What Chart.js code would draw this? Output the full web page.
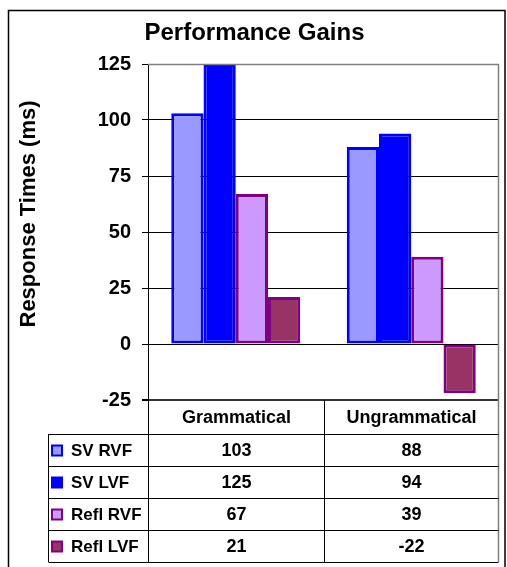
<!DOCTYPE html>
<html><head><meta charset="utf-8">
<script src="https://cdn.jsdelivr.net/npm/chart.js@4/dist/chart.umd.min.js"></script>
<style>html,body{margin:0;padding:0;background:#fff;overflow:hidden}#wrap{position:relative;width:507px;height:567px}</style>
</head><body><div id="wrap"><canvas id="c" width="507" height="567"></canvas></div>
<script>
// ---- data ----
const categories = ['Grammatical', 'Ungrammatical'];
const seriesNames = ['SV RVF', 'SV LVF', 'Refl RVF', 'Refl LVF'];
const svRVF = [103, 88];
const svLVF = [125, 94];
const reflRVF = [67, 39];
const reflLVF = [21, -22];
const yTickValues = [-25, 0, 25, 50, 75, 100, 125];
const chartTitle = 'Performance Gains';
const yAxisTitle = 'Response Times (ms)';

// ---- styles ----
const fills = ['#9999FF', '#0000FF', '#CC99FF', '#993366'];
const borders = ['#0000FF', '#0000FF', '#800080', '#800080'];
const FONT = '"Liberation Sans", Arial, sans-serif';
const seriesData = [svRVF, svLVF, reflRVF, reflLVF];

const tablePlugin = {
  id: 'tablePlugin',
  beforeDraw(chart) {
    const ctx = chart.ctx;
    ctx.save();
    ctx.fillStyle = '#fff';
    ctx.fillRect(0, 0, chart.width, chart.height);
    ctx.restore();
  },
  afterDraw(chart) {
    const ctx = chart.ctx;
    const ca = chart.chartArea;
    const xs = chart.scales.x;
    ctx.save();
    // outer frame
    ctx.strokeStyle = '#000';
    ctx.lineWidth = 1.5;
    ctx.beginPath();
    ctx.moveTo(8.5, 580); ctx.lineTo(8.5, 10.5); ctx.lineTo(505, 10.5); ctx.lineTo(505, 580);
    ctx.stroke();
    // plot border (gray) top & right
    ctx.strokeStyle = '#808080';
    ctx.lineWidth = 1.5;
    ctx.beginPath();
    ctx.moveTo(ca.left, ca.top + 0.5); ctx.lineTo(ca.right - 0.5, ca.top + 0.5); ctx.lineTo(ca.right - 0.5, 562);
    ctx.stroke();

    // y axis title
    ctx.fillStyle = '#000';
    ctx.font = 'bold 22px ' + FONT;
    ctx.textAlign = 'center';
    ctx.textBaseline = 'middle';
    ctx.save();
    ctx.translate(29, 214);
    ctx.rotate(-Math.PI / 2);
    ctx.fillText(yAxisTitle, 0, 0);
    ctx.restore();

    // table
    const top = ca.bottom;
    const headerBottom = 434;
    const rowH = 32;
    const legendLeft = 48.5;
    const axisX = ca.left + 0.5;
    const c0 = xs.getPixelForValue(0), c1 = xs.getPixelForValue(1);
    const midX = Math.round((c0 + c1) / 2) + 0.5;
    const right = ca.right - 0.5;
    const tableBottom = headerBottom + rowH * seriesNames.length;

    ctx.strokeStyle = '#000';
    ctx.lineWidth = 1;
    ctx.beginPath();
    ctx.moveTo(axisX, top); ctx.lineTo(axisX, tableBottom);
    ctx.moveTo(midX, top); ctx.lineTo(midX, tableBottom);
    ctx.moveTo(legendLeft, headerBottom); ctx.lineTo(legendLeft, tableBottom);
    for (let i = 0; i <= seriesNames.length; i++) {
      const y = headerBottom + rowH * i + 0.5;
      ctx.moveTo(legendLeft, y); ctx.lineTo(right, y);
    }
    ctx.stroke();

    // header text
    ctx.fillStyle = '#000';
    ctx.font = 'bold 18px ' + FONT;
    ctx.textAlign = 'center';
    ctx.textBaseline = 'middle';
    const colCenters = [(axisX + midX) / 2, (midX + right) / 2];
    categories.forEach((c, i) => ctx.fillText(c, colCenters[i], (top + headerBottom) / 2 + 1));

    // rows
    seriesNames.forEach((name, r) => {
      const yc = headerBottom + rowH * r + rowH / 2 + 1;
      ctx.fillStyle = fills[r];
      ctx.fillRect(52, yc - 5.5, 10, 10);
      ctx.strokeStyle = borders[r];
      ctx.lineWidth = 2;
      ctx.strokeRect(52, yc - 5.5, 10, 10);
      ctx.fillStyle = '#000';
      ctx.textAlign = 'left';
      ctx.font = 'bold 17px ' + FONT;
      ctx.fillText(name, 71, yc);
      ctx.textAlign = 'center';
      ctx.font = 'bold 18px ' + FONT;
      seriesData[r].forEach((v, i) => ctx.fillText(String(v), colCenters[i], yc));
    });
    ctx.restore();
  }
};

new Chart(document.getElementById('c'), {
  type: 'bar',
  data: {
    labels: categories,
    datasets: seriesNames.map((n, i) => ({
      label: n,
      data: seriesData[i],
      backgroundColor: fills[i],
      borderColor: borders[i],
      borderWidth: 3,
      borderSkipped: false,
      categoryPercentage: 0.735,
      barPercentage: 1.0
    }))
  },
  options: {
    responsive: false,
    animation: false,
    devicePixelRatio: 1,
    layout: { padding: { left: 10, right: 8, top: 10, bottom: 167 } },
    plugins: {
      legend: { display: false },
      tooltip: { enabled: false },
      title: {
        display: true,
        text: chartTitle,
        color: '#000',
        font: { family: FONT, size: 24, weight: 'bold' },
        padding: { top: 8.6, bottom: 16.6 }
      }
    },
    scales: {
      x: { display: false },
      y: {
        min: -25, max: 125,
        afterFit(scale) { scale.width = 138; },
        afterBuildTicks(scale) { scale.ticks = yTickValues.map(v => ({ value: v })); },
        border: { display: true, color: '#000', width: 1 },
        grid: {
          color: ctx => (ctx.tick && ctx.tick.value === -25) ? '#333' : '#000',
          lineWidth: ctx => (ctx.tick && ctx.tick.value === -25) ? 2 : 1,
          tickColor: '#000',
          tickLength: 6,
          drawTicks: true
        },
        ticks: {
          color: '#000',
          padding: 11,
          font: { family: FONT, size: 20, weight: 'bold' }
        }
      }
    }
  },
  plugins: [tablePlugin]
});
</script>
</body></html>
